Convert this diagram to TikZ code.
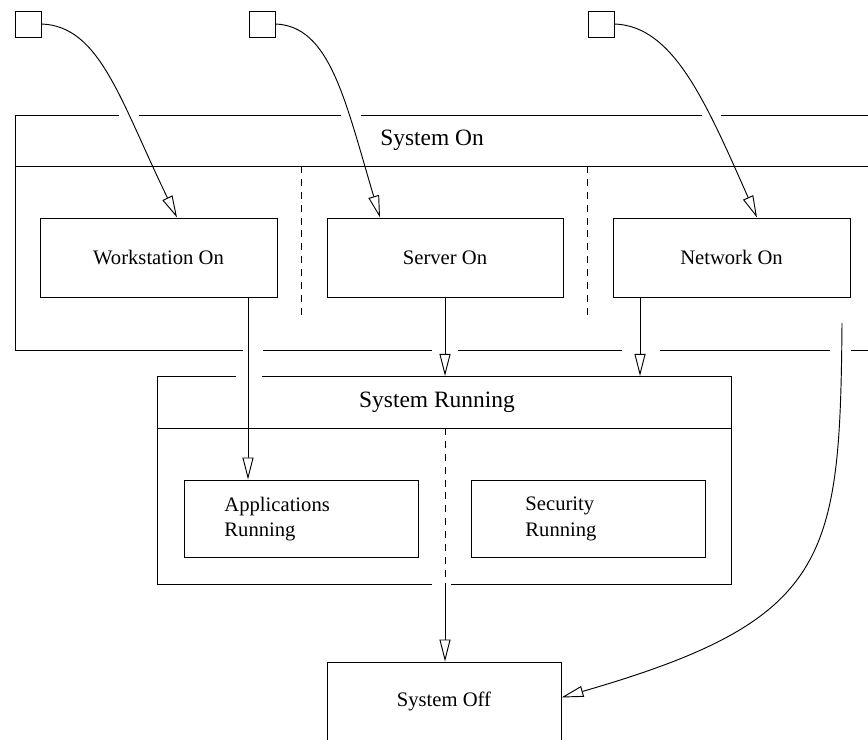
\documentclass[tikz,border=0pt]{standalone}
\usepackage{fontspec}
\setmainfont{Liberation Serif}
\usetikzlibrary{arrows.meta,calc}
\begin{document}
\begin{tikzpicture}[x=0.03cm,y=-0.03cm, line width=0.8pt,
  box/.style={draw, rectangle, minimum width=7.08cm, minimum height=2.37cm, inner sep=0pt, font=\fontsize{17.6}{21}\selectfont},
  sq/.style={draw, rectangle, minimum size=0.78cm, inner sep=0pt},
  hdr/.style={font=\fontsize{20}{24}\selectfont, inner sep=0pt},
  lbl/.style={font=\fontsize{17.6}{22}\selectfont, inner sep=0pt, anchor=west, align=left},
  tip/.style={-{Triangle[length=0.66cm,width=0.33cm,fill=white]}},
  dsh/.style={dash pattern=on 6pt off 5pt}]
\useasboundingbox (0,0) rectangle (868,740);
\clip (0,0) rectangle (868,740);

% top squares
\node[sq] (s1) at (28,24) {};
\node[sq] (s2) at (262,24) {};
\node[sq] (s3) at (601,24) {};

% System On container
\draw (119,115) -- (15,115) -- (15,350) -- (243,350);
\draw (139,115) -- (341,115);
\draw (361,115) -- (702,115);
\draw (721,115) -- (880,115);
\draw (15,166) -- (880,166);
\draw (263,350) -- (432,350);
\draw (458,350) -- (622,350);
\draw (660,350) -- (830,350);
\draw (851,350) -- (880,350);
\node[hdr] (son) at (432,140) {System On};
\draw[dsh] (301,166) -- (301,318);
\draw[dsh] (587,166) -- (587,318);

\node[box, minimum width=7.11cm] (ws) at (158.5,257.5) {Workstation On};
\node[box] (sv) at (445,257.5) {Server On};
\node[box, minimum width=7.11cm] (nw) at (731.5,257.5) {Network On};

% System Running container
\draw (236,376) -- (157,376) -- (157,584) -- (432,584);
\draw (262,376) -- (731,376) -- (731,584) -- (451,584);
\draw (157,428) -- (731,428);
\node[hdr] (srn) at (437,402) {System Running};
\draw[dsh] (445,428) -- (445,584);
\coordinate (srN) at (445,376);
\coordinate (srS) at (445,584);

\node[box, minimum width=7.02cm, minimum height=2.31cm] (ar) at (301,518.5) {};
\node[box, minimum width=7.02cm, minimum height=2.31cm] (sr) at (588,518.5) {};
\node[lbl] (art) at (224,519) {Applications\\Running};
\node[lbl] (srt) at (525,519) {Security\\Running};

\node[box, minimum width=7.02cm] (so) at (444,701.5) {System Off};

% connectors
\draw[tip] (s1.east) .. controls (100,26) and (120,100) .. ($(ws.north)+(18.5,0)$);
\draw[tip] (s2.east) .. controls (330,26) and (345,100) .. ($(sv.north)+(-65,0)$);
\draw[tip] (s3.east) .. controls (673,26) and (705,100) .. ($(nw.north)+(25.5,0)$);

\coordinate (w1) at ($(ws.south)+(89.5,0)$);
\draw[tip] (w1) -- (w1 |- ar.north);
\draw[tip] (sv.south) -- (sv.south |- srN);
\coordinate (n1) at ($(nw.south)+(-91.5,0)$);
\draw[tip] (n1) -- (n1 |- srN);
\draw[tip] (srS) -- (srS |- so.north);

\coordinate (c4) at (842,323);
\draw[tip] (c4) .. controls (840,560) and (830,620) .. ($(so.east)+(0,-4)$);
\end{tikzpicture}
\end{document}
